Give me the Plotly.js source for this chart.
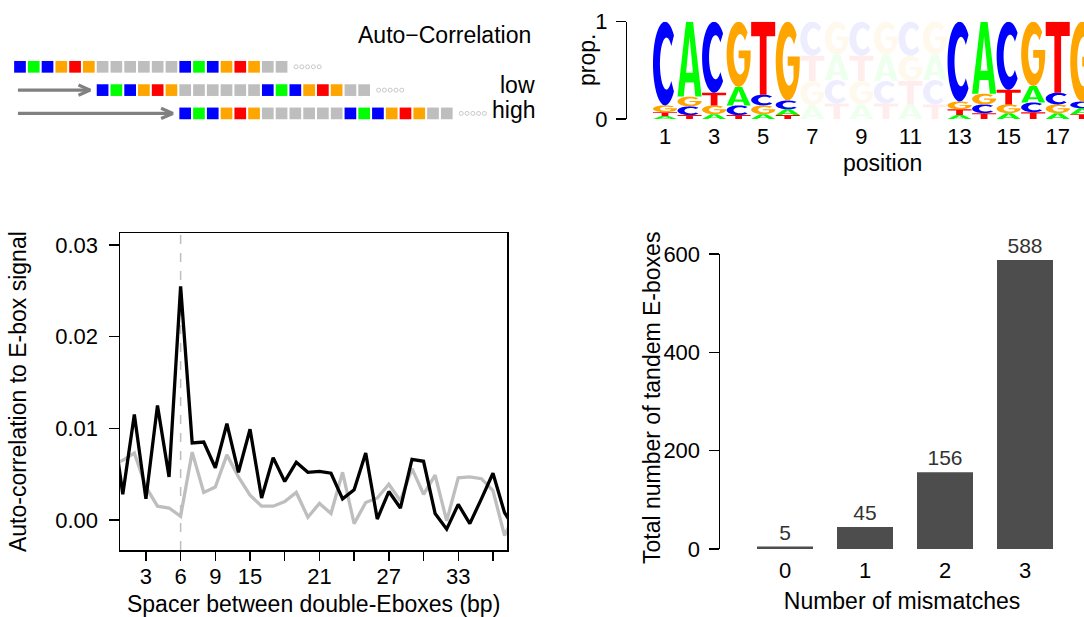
<!DOCTYPE html>
<html>
<head>
<meta charset="utf-8">
<script src="https://cdn.plot.ly/plotly-3.0.1.min.js"></script>
<style>
  html, body { margin: 0; padding: 0; background: #ffffff; }
  #fig { width: 1084px; height: 617px; }
</style>
</head>
<body>
<div id="fig"></div>
<script>
// ---------------- data ----------------
// Spacer length (bp) between the two E-boxes
const spacerBp = [0, 1, 2, 3, 4, 5, 6, 7, 8, 9, 10, 11, 12, 13, 14, 15, 16, 17,
                  18, 19, 20, 21, 22, 23, 24, 25, 26, 27, 28, 29, 30, 31, 32, 33, 34, 35];
// Auto-correlation to the E-box signal: double E-box sequences
const signalCorr = [0.0120, 0.0028, 0.0115, 0.0023, 0.0125, 0.0047, 0.0255, 0.0084, 0.0085,
                    0.0057, 0.0105, 0.0052, 0.0099, 0.0024, 0.0068, 0.0042, 0.0063, 0.0052,
                    0.0053, 0.0051, 0.0023, 0.0033, 0.0073, 0.0001, 0.0031, 0.0013, 0.0066,
                    0.0064, 0.0007, -0.0010, 0.0017, -0.0004, 0.0023, 0.0051, 0.0008, -0.0012];
// Auto-correlation of the background sequences
const controlCorr = [0.0060, 0.0065, 0.0073, 0.0036, 0.0015, 0.0013, 0.0004, 0.0074, 0.0030,
                     0.0036, 0.0071, 0.0047, 0.0027, 0.0015, 0.0015, 0.0020, 0.0030, 0.0003,
                     0.0018, 0.0007, 0.0052, -0.0004, 0.0019, 0.0024, 0.0039, 0.0021, 0.0056,
                     0.0028, 0.0049, -0.0001, 0.0046, 0.0047, 0.0045, 0.0032, -0.0017, 0.0009];
const highlightSpacer = 6;
const spacerTicks = [3, 6, 9, 12, 15, 18, 21, 24, 27, 30, 33];
const spacerTickText = ['3', '6', '9', '15', '', '21', '', '27', '', '33', ''];

// Tandem E-box counts by number of mismatches
const mismatches = [0, 1, 2, 3];
const tandemCounts = [5, 45, 156, 588];

// Sequence logo: per-position base proportions
const logoPositions = [1, 2, 3, 4, 5, 6, 7, 8, 9, 10, 11, 12, 13, 14, 15, 16, 17, 18];
const probA = [0.03, 0.77, 0.05, 0.19, 0.05, 0.06, 0.14, 0.26, 0.15, 0.27, 0.15, 0.26, 0.04, 0.74, 0.06, 0.17, 0.06, 0.06];
const probC = [0.86, 0.09, 0.73, 0.10, 0.11, 0.09, 0.35, 0.24, 0.35, 0.23, 0.35, 0.25, 0.82, 0.09, 0.70, 0.10, 0.12, 0.07];
const probG = [0.07, 0.10, 0.09, 0.67, 0.09, 0.81, 0.25, 0.34, 0.24, 0.34, 0.26, 0.34, 0.08, 0.11, 0.09, 0.66, 0.09, 0.82];
const probT = [0.04, 0.04, 0.13, 0.04, 0.75, 0.04, 0.26, 0.16, 0.26, 0.16, 0.24, 0.15, 0.06, 0.06, 0.15, 0.07, 0.73, 0.05];
const spacerPositions = [7, 8, 9, 10, 11, 12];

// Schematic: double E-box sequence and the shifts compared against it
const schematicSeq = ['C', 'A', 'C', 'G', 'T', 'G', 'N', 'N', 'N', 'N', 'N', 'N',
                      'C', 'A', 'C', 'G', 'T', 'G', 'N', 'N'];
const rowShifts = [0, 6, 12];
const rowLabels = ['', 'low', 'high'];

const baseColors = { A: '#00FF00', C: '#0000FF', G: '#FFA500', T: '#FF0000', N: '#BEBEBE' };

// ---------------- helpers ----------------
const W = 1084, H = 617;
const FONT = 'Liberation Sans, Arial, Helvetica, sans-serif';
const px = v => v / W;        // horizontal pixel -> paper
const py = v => 1 - v / H;    // vertical pixel -> paper

// Letter outlines in a unit box (u right, v up)
function arc(e, a0, a1, n) {
  const pts = [];
  for (let k = 0; k <= n; k++) {
    const a = (a0 + (a1 - a0) * k / n) * Math.PI / 180;
    pts.push([e.cx + e.rx * Math.cos(a), e.cy + e.ry * Math.sin(a)]);
  }
  return pts;
}
const OUTER = { cx: 0.5, cy: 0.5, rx: 0.5, ry: 0.5 };
const INNER = { cx: 0.56, cy: 0.5, rx: 0.27, ry: 0.31 };
const G_STEM = 0.74;
const G_STEM_ANG = 360 - Math.acos((G_STEM - INNER.cx) / INNER.rx) * 180 / Math.PI;
const GLYPHS = {
  C: [[...arc(OUTER, 42, 318, 64), ...arc(INNER, 318, 42, 64)]],
  G: [[...arc(OUTER, 42, 360, 64), [1, 0.56], [0.5, 0.56], [0.5, 0.44], [G_STEM, 0.44],
       ...arc(INNER, G_STEM_ANG, 42, 64)]],
  A: [[[0, 0], [0.26, 0], [0.317, 0.19], [0.683, 0.19], [0.74, 0], [1, 0], [0.645, 1], [0.355, 1]],
      [[0.356, 0.32], [0.5, 0.8], [0.644, 0.32]]],
  T: [[[0, 1], [1, 1], [1, 0.8], [0.64, 0.8], [0.64, 0], [0.36, 0], [0.36, 0.8], [0, 0.8]]]
};
function glyphPath(letter, xc, y0, h, w) {
  return GLYPHS[letter].map(poly =>
    'M' + poly.map(([u, v]) => (xc - w / 2 + u * w).toFixed(4) + ',' + (y0 + v * h).toFixed(5)).join('L') + 'Z'
  ).join(' ');
}

// ---------------- traces ----------------
const traces = [];

// line chart
traces.push({
  type: 'scatter', mode: 'lines', x: spacerBp, y: controlCorr, xaxis: 'x', yaxis: 'y',
  line: { color: '#BEBEBE', width: 3.3 }, hoverinfo: 'skip'
});
traces.push({
  type: 'scatter', mode: 'lines', x: spacerBp, y: signalCorr, xaxis: 'x', yaxis: 'y',
  line: { color: '#000000', width: 3.3 }, hoverinfo: 'skip'
});

// bar chart
traces.push({
  type: 'bar', x: mismatches, y: tandemCounts, xaxis: 'x2', yaxis: 'y2',
  marker: { color: '#4D4D4D', line: { width: 0 } },
  text: tandemCounts.map(String), textposition: 'outside', cliponaxis: false,
  constraintext: 'none', textfont: { family: FONT, size: 21, color: '#333333' },
  hoverinfo: 'skip'
});

// schematic rows
rowShifts.forEach((shift, r) => {
  traces.push({
    type: 'scatter', mode: 'markers', xaxis: 'x3', yaxis: 'y3', hoverinfo: 'skip',
    x: schematicSeq.map((_, i) => i + shift),
    y: schematicSeq.map(() => r),
    marker: { symbol: 'square', size: 11.7, color: schematicSeq.map(b => baseColors[b]), line: { width: 0 } }
  });
  const last = shift + schematicSeq.length - 1;
  traces.push({
    type: 'scatter', mode: 'markers', xaxis: 'x3', yaxis: 'y3', hoverinfo: 'skip',
    x: [0, 1, 2, 3, 4].map(k => last + 1.05 + k * 0.42),
    y: [r, r, r, r, r],
    marker: { symbol: 'circle-open', size: 4, color: '#C8C8C8', line: { width: 1, color: '#C8C8C8' } }
  });
  if (shift > 0) {
    const tip = shift - 0.9;
    traces.push({
      type: 'scatter', mode: 'lines', xaxis: 'x3', yaxis: 'y3', hoverinfo: 'skip',
      x: [-0.15, tip, null, tip - 0.85, tip, tip - 0.85],
      y: [r, r, null, r - 0.22, r, r + 0.22],
      line: { color: '#808080', width: 3.2 }
    });
  }
});

// anchor trace for the logo subplot
traces.push({ type: 'scatter', mode: 'markers', x: [], y: [], xaxis: 'x4', yaxis: 'y4', hoverinfo: 'skip' });

// ---------------- logo letters ----------------
const shapes = [];
logoPositions.forEach((pos, i) => {
  const stack = [['A', probA[i]], ['C', probC[i]], ['G', probG[i]], ['T', probT[i]]]
    .sort((a, b) => a[1] - b[1]);
  const faded = spacerPositions.includes(pos);
  let y0 = 0;
  stack.forEach(([letter, p]) => {
    shapes.push({
      type: 'path', xref: 'x4', yref: 'y4', layer: 'above',
      path: glyphPath(letter, pos, y0, p, 0.98),
      fillcolor: baseColors[letter], line: { width: 0 },
      opacity: faded ? 0.07 : 1
    });
    y0 += p;
  });
});

// dashed marker at the highlighted spacer
shapes.push({
  type: 'line', xref: 'x', yref: 'y domain', x0: highlightSpacer, x1: highlightSpacer, y0: 0, y1: 1,
  line: { color: '#BEBEBE', width: 1.5, dash: 'dash' }, layer: 'below'
});

// ---------------- layout ----------------
const axisBase = {
  showgrid: false, zeroline: false, linecolor: '#000000', linewidth: 1.5,
  tickcolor: '#000000', tickwidth: 1.5, tickfont: { family: FONT, size: 22, color: '#000000' }
};
const titleFont = { family: FONT, size: 23, color: '#000000' };

const annotations = [
  { xref: 'paper', yref: 'paper', x: px(533), y: py(35), xanchor: 'right', yanchor: 'middle',
    text: 'Auto\u2212Correlation', showarrow: false, font: titleFont },
  { xref: 'paper', yref: 'paper', x: px(882), y: py(163), xanchor: 'center', yanchor: 'middle',
    text: 'position', showarrow: false, font: titleFont },
  { xref: 'paper', yref: 'paper', x: px(587), y: py(60), xanchor: 'center', yanchor: 'middle',
    text: 'prop.', textangle: -90, showarrow: false, font: titleFont },
  { xref: 'paper', yref: 'paper', x: px(652), y: py(398), xanchor: 'center', yanchor: 'middle',
    text: 'Total number of tandem E-boxes', textangle: -90, showarrow: false, font: titleFont }
];
const rowLabelY = [0, 85, 110];
rowLabels.forEach((t, r) => {
  if (!t) return;
  annotations.push({ xref: 'paper', yref: 'paper', x: px(537), y: py(rowLabelY[r]), xanchor: 'right',
    yanchor: 'middle', text: t, showarrow: false, font: titleFont });
});

const layout = {
  width: W, height: H,
  margin: { l: 0, r: 0, t: 0, b: 0 },
  paper_bgcolor: '#ffffff', plot_bgcolor: 'rgba(0,0,0,0)',
  showlegend: false, hovermode: false,
  font: { family: FONT, size: 22, color: '#000000' },
  bargap: 0.3,

  xaxis: Object.assign({}, axisBase, {
    domain: [px(120), px(507.3)], range: [0.76, 34.24], anchor: 'y',
    showline: true, mirror: true, ticks: 'outside', ticklen: 9, ticklabelstandoff: -3,
    tickvals: spacerTicks, ticktext: spacerTickText,
    title: { text: 'Spacer between double-Eboxes (bp)', font: titleFont, standoff: 10 }
  }),
  yaxis: Object.assign({}, axisBase, {
    domain: [py(550), py(233.3)], range: [-0.00328, 0.03128], anchor: 'x',
    showline: true, mirror: true, ticks: 'outside', ticklen: 10, ticklabelstandoff: 6,
    tickvals: [0, 0.01, 0.02, 0.03], tickformat: '.2f',
    title: { text: 'Auto-correlation to E-box signal', font: titleFont, standoff: 22 }
  }),

  xaxis2: Object.assign({}, axisBase, {
    domain: [px(720), 1], range: [-0.8125, 3.7375], anchor: 'y2',
    showline: false, ticks: '', ticklabelstandoff: 6, tickvals: mismatches,
    title: { text: 'Number of mismatches', font: titleFont, standoff: 10 }
  }),
  yaxis2: Object.assign({}, axisBase, {
    domain: [py(549), py(254)], range: [0, 600], anchor: 'x2',
    showline: true, ticks: 'outside', ticklen: 10, ticklabelstandoff: 4,
    tickvals: [0, 200, 400, 600]
  }),

  xaxis3: { domain: [0, px(551)], range: [-1.452, 38.57], anchor: 'y3', visible: false, fixedrange: true },
  yaxis3: { domain: [py(130), py(20)], range: [2.712, -2.009], anchor: 'x3', visible: false, fixedrange: true },

  xaxis4: Object.assign({}, axisBase, {
    domain: [px(627.3), 1], range: [-0.536, 18.07], anchor: 'y4',
    showline: false, ticks: '', ticklabelstandoff: 2,
    tickvals: logoPositions.filter(p => p % 2 === 1)
  }),
  yaxis4: Object.assign({}, axisBase, {
    domain: [py(119), py(21.7)], range: [0, 1], anchor: 'x4',
    showline: true, ticks: 'outside', ticklen: 10, ticklabelstandoff: 4,
    tickvals: [0, 1]
  }),

  shapes: shapes,
  annotations: annotations
};

Plotly.newPlot('fig', traces, layout, { staticPlot: true, displayModeBar: false });
</script>
</body>
</html>
